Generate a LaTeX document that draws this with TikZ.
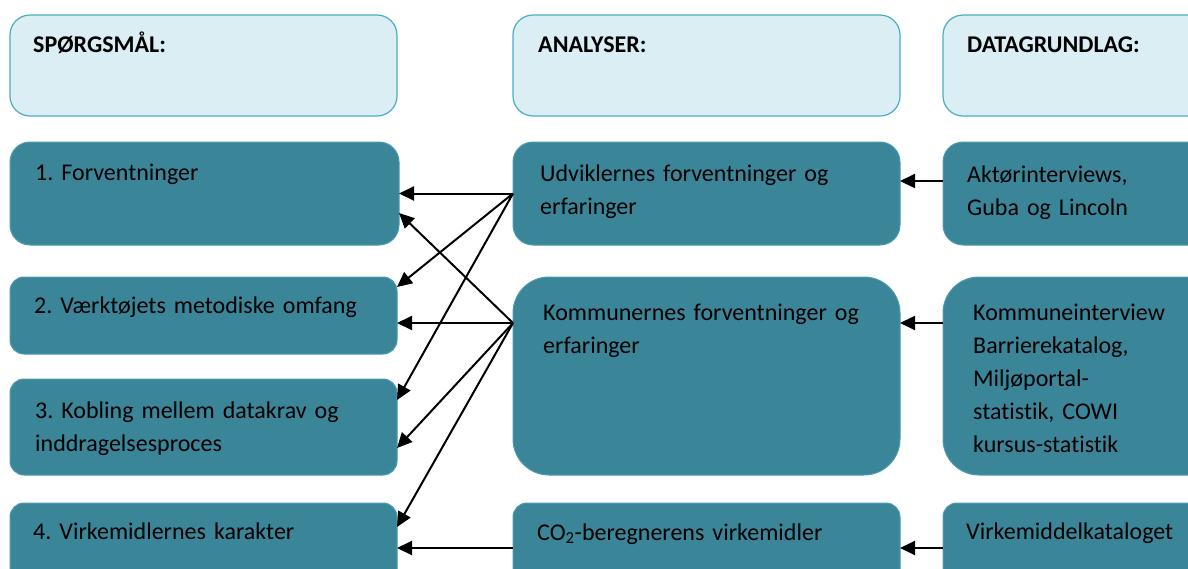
\documentclass[tikz,border=0pt]{standalone}
\usepackage{fontspec}
\setmainfont{Carlito}[Ligatures=NoCommon]
\frenchspacing
\usetikzlibrary{arrows.meta}
\definecolor{headfill}{HTML}{DAEEF3}
\definecolor{headline}{HTML}{4BACC6}
\definecolor{tealfill}{HTML}{3B8599}
\definecolor{tealline}{HTML}{4A9BB3}
\begin{document}
\begin{tikzpicture}[x=1pt,y=-1pt,
  box/.style={anchor=north west, inner sep=0pt, outer sep=0pt},
  headbox/.style={box, fill=headfill, draw=headline, line width=1.2pt, rounded corners=20pt},
  tealbox/.style={box, fill=tealfill, draw=tealline, line width=1pt, rounded corners=#1},
  tealbox/.default=16pt,
  lbl/.style={anchor=base west, inner sep=0pt, font=\fontsize{24}{33}\selectfont, text=black, align=left, text width=#1},
  lbl/.default=380pt,
  hlbl/.style={anchor=base west, inner sep=0pt, font=\fontsize{24}{33}\selectfont\bfseries, text=black},
  arr/.style={line width=2pt, -{Triangle[length=15pt,width=14pt]}}
]
\useasboundingbox (0,0) rectangle (1188,568);
\clip (0,0) rectangle (1188,568);

% column headers
\node[headbox, minimum width=387pt, minimum height=101pt] (h1) at (10,15) {};
\node[headbox, minimum width=387pt, minimum height=101pt] (h2) at (513,15) {};
\node[headbox, minimum width=300pt, minimum height=101pt] (h3) at (943,15) {};
\node[hlbl] (h1t) at (33,52) {SPØRGSMÅL:};
\node[hlbl] (h2t) at (538,52) {ANALYSER:};
\node[hlbl] (h3t) at (967,52) {DATAGRUNDLAG:};

% questions
\node[tealbox=20pt, minimum width=389pt, minimum height=103pt] (q1) at (10,142) {};
\node[tealbox=14pt, minimum width=387pt, minimum height=77pt] (q2) at (10,277) {};
\node[tealbox=14pt, minimum width=387pt, minimum height=96pt] (q3) at (10,379) {};
\node[tealbox=14pt, minimum width=387pt, minimum height=97pt] (q4) at (10,503) {};
\node[lbl] (q1t) at (35,180) {1. Forventninger};
\node[lbl] (q2t) at (34,313) {2. Værktøjets metodiske omfang};
\node[lbl] (q3t) at (35,418) {3. Kobling mellem datakrav og\\inddragelsesproces};
\node[lbl] (q4t) at (33,539) {4. Virkemidlernes karakter};

% analyses
\node[tealbox=20pt, minimum width=387pt, minimum height=103pt] (u) at (513,142) {};
\node[tealbox=36pt, minimum width=387pt, minimum height=198pt] (k) at (513,277) {};
\node[tealbox=14pt, minimum width=387pt, minimum height=97pt] (co) at (513,503) {};
\node[lbl=350pt] (ut) at (540,181) {Udviklernes forventninger og\\erfaringer};
\node[lbl=350pt] (kt) at (543,320) {Kommunernes forventninger og\\erfaringer};
\node[lbl=350pt] (cot) at (537,540) {CO\textsubscript{2}-beregnerens virkemidler};

% data sources
\node[tealbox=20pt, minimum width=300pt, minimum height=103pt] (a) at (943,142) {};
\node[tealbox=36pt, minimum width=300pt, minimum height=198pt] (ki) at (943,277) {};
\node[tealbox=14pt, minimum width=300pt, minimum height=97pt] (vk) at (943,503) {};
\node[lbl=230pt] (at) at (967,182) {Aktørinterviews,\\Guba og Lincoln};
\node[lbl=230pt] (kit) at (973,320) {Kommuneinterview\\Barrierekatalog,\\Miljøportal-\\statistik, COWI\\kursus-statistik};
\node[lbl=230pt] (vkt) at (966,539) {Virkemiddelkataloget};

% connector end points on the box edges
\coordinate (uo) at (u.west);
\coordinate (ko) at ([yshift=53pt]k.west);
\coordinate (coo) at ([yshift=3.5pt]co.west);
\coordinate (ui) at ([yshift=12.5pt]u.east);
\coordinate (ao) at ([yshift=12.5pt]a.west);
\coordinate (ki1) at ([yshift=53pt]k.east);
\coordinate (kio) at ([yshift=53pt]ki.west);
\coordinate (coi) at ([yshift=3.5pt]co.east);
\coordinate (vko) at ([yshift=3.5pt]vk.west);
\coordinate (q1a) at (q1.east);
\coordinate (q1b) at ([yshift=-19.5pt]q1.east);
\coordinate (q2a) at ([yshift=28.5pt]q2.east);
\coordinate (q2b) at ([yshift=-7.5pt]q2.east);
\coordinate (q3a) at ([yshift=27pt]q3.east);
\coordinate (q3b) at ([yshift=-21pt]q3.east);
\coordinate (q4a) at ([yshift=24.5pt]q4.east);
\coordinate (q4b) at ([yshift=3.5pt]q4.east);

% connectors
\draw[arr] (uo) -- (q1a);
\draw[arr] (uo) -- (q2a);
\draw[arr] (uo) -- (q3a);
\draw[arr] (ko) -- (q1b);
\draw[arr] (ko) -- (q2b);
\draw[arr] (ko) -- (q3b);
\draw[arr] (ko) -- (q4a);
\draw[arr] (coo) -- (q4b);
\draw[arr] (ao) -- (ui);
\draw[arr] (kio) -- (ki1);
\draw[arr] (vko) -- (coi);
\end{tikzpicture}
\end{document}
